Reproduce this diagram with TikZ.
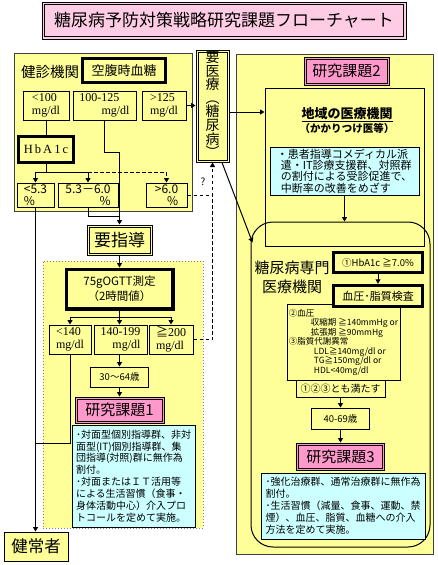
\documentclass[tikz,border=0pt]{standalone}
\usepackage{fontspec}
\setmainfont{Noto Sans CJK JP}
\newfontfamily\jp{Noto Sans CJK JP}
\newfontfamily\lserif{Liberation Serif}
\usetikzlibrary{arrows.meta,calc}
\definecolor{yel}{HTML}{FFFF99}
\definecolor{cya}{HTML}{CCFFFF}
\definecolor{pnk}{HTML}{FF99CC}
\definecolor{lpnk}{HTML}{FFCCE6}
\definecolor{bord}{HTML}{404040}
\newcommand\fsz[2]{\fontsize{#1}{#2}\selectfont}
\newcommand\innerrect[3]{\draw[line width=#3] ([shift={(#2,#2)}]#1.north west) rectangle ([shift={(-#2,-#2)}]#1.south east);}
\begin{document}
\begin{tikzpicture}[x=1pt,y=-1pt,
  box/.style={draw=black,fill=yel,line width=1pt,inner sep=0pt,align=center},
  dbox/.style={box,line width=1pt},
  tbox/.style={box,line width=2.4pt},
  pbox/.style={draw=black,fill=pnk,line width=1pt,inner sep=0pt,font=\fsz{15}{15}},
  cbox/.style={draw=black,fill=cya,line width=1pt,inner sep=0pt,align=left},
  cont/.style={draw=bord,fill=yel,line width=1pt,inner sep=0pt},
  arr/.style={-{Triangle[length=4.5pt,width=5pt]},line width=1pt},
  ln/.style={line width=1pt},
  dsh/.style={line width=1pt,dash pattern=on 3.5pt off 2.5pt},
  sbox/.style={box,font=\lserif\fsz{12}{13}},
]
\useasboundingbox (0,0) rectangle (437,565);

% title
\node[draw=black,fill=lpnk,line width=1pt,minimum width=364pt,minimum height=37pt,inner sep=0pt,font=\fsz{17}{17}] (title) at (224,20.5) {糖尿病予防対策戦略研究課題フローチャート};
\innerrect{title}{3}{1.8pt}

% containers
\node[cont,minimum width=178pt,minimum height=158pt] (kenshin) at (103,132) {};
\node[cont,minimum width=197pt,minimum height=500pt] (rightc) at (334.5,304) {};
\node[draw=gray,dotted,fill=yel,line width=1pt,minimum width=160pt,minimum height=267pt,inner sep=0pt] (ogttarea) at (123,394.5) {};

% left top part
\node[font=\fsz{14.5}{14.5}] (kenshinlbl) at (50,72) {健診機関};
\node[tbox,minimum width=84pt,minimum height=25pt,font=\fsz{13}{13}] (kufuku) at (124,70.5) {空腹時血糖};
\innerrect{kufuku}{2.6}{0.8pt}
\node[sbox,align=left,minimum width=46pt,minimum height=29pt] (m100) at (46,105.5) {<100\\mg/dl};
\node[sbox,align=left,minimum width=63pt,minimum height=29pt] (m100125) at (104.5,105.5) {100-125\\\hspace*{22pt}mg/dl};
\node[sbox,align=left,minimum width=44pt,minimum height=29pt] (m125) at (164,105.5) {>125\\mg/dl};
\node[tbox,minimum width=56pt,minimum height=27pt,font=\lserif\fsz{12.5}{12.5}] (hba) at (46,149.5) {H\,b\,A\,1\,c};
\innerrect{hba}{2.6}{0.8pt}
\node[box,align=left,minimum width=37pt,minimum height=24pt,font=\fsz{12}{12}] (lt53) at (35.5,195) {<5.3\\\%};
\node[box,align=right,minimum width=60pt,minimum height=24pt,font=\fsz{12}{12}] (m5360) at (88,195) {5.3－6.0\\\%};
\node[box,align=right,minimum width=41pt,minimum height=24pt,font=\fsz{12}{12}] (gt60) at (166.5,195) {>6.0\\\%};

% 要医療
\node[dbox,minimum width=33pt,minimum height=112pt] (iryo) at (212.5,106) {};
\innerrect{iryo}{2.4}{0.8pt}
\node[align=center,inner sep=0pt,font=\fsz{14}{13.6}] (iryolbl) at (212.5,110) {\smash{要}\\\smash{医}\\\smash{療}\\\smash{︵}\\\smash{糖}\\\smash{尿}\\\smash{病}\\\smash{︶}};
\node[font=\fsz{10}{10}] (q) at (203,182) {?};

% left lower part
\node[dbox,minimum width=65pt,minimum height=30pt,font=\fsz{17}{17}] (yoshido) at (119.5,240) {要指導};
\innerrect{yoshido}{2.4}{0.8pt}
\node[tbox,line width=3pt,minimum width=107pt,minimum height=40pt,font=\fsz{11.5}{15}] (ogtt) at (119.5,289) {75gOGTT測定\\（2時間値）};
\innerrect{ogtt}{3.2}{0.8pt}
\node[sbox,align=left,minimum width=42pt,minimum height=29pt] (lt140) at (70,339.5) {<140\\mg/dl};
\node[sbox,align=right,minimum width=53pt,minimum height=29pt] (m140199) at (120.5,339.5) {140-199\\mg/dl};
\node[sbox,align=left,minimum width=44pt,minimum height=29pt] (ge200) at (171,339.5) {{\jp ≧}200\\mg/dl};
\node[box,minimum width=58pt,minimum height=20pt,font=\fsz{9.5}{9.5}] (age1) at (119.5,377) {30〜64歳};
\node[pbox,minimum width=89pt,minimum height=26pt] (kadai1) at (119.5,410) {研究課題1};
\innerrect{kadai1}{2.4}{0.8pt}
\node[cbox,minimum width=123pt,minimum height=102pt,font=\fsz{10}{11.9}] (c1) at (133.5,476) {･対面型個別指導群、非対\\面型(IT)個別指導群、集\\団指導(対照)群に無作為\\割付。\\･対面またはＩＴ活用等\\による生活習慣（食事・\\身体活動中心）介入プロ\\トコールを定めて実施。};
\node[box,minimum width=64pt,minimum height=29pt,font=\fsz{16.5}{16.5}] (kenjo) at (36,546.5) {健常者};

% right part
\node[pbox,minimum width=85pt,minimum height=28pt] (kadai2) at (346.5,71) {研究課題2};
\innerrect{kadai2}{2.4}{0.8pt}
\node[box,minimum width=159pt,minimum height=158pt] (chiiki) at (344.5,167) {};
\node[font=\bfseries\fsz{13}{13}] (chiikilbl) at (347,115) {\underline{地域の医療機関}};
\node[font=\bfseries\fsz{10.5}{10.5}] (kakari) at (347,128) {（かかりつけ医等）};
\node[cbox,minimum width=149pt,minimum height=48pt,font=\fsz{11}{10}] (c2) at (344.5,171) {・患者指導コメディカル派\\\hspace*{4pt}遣・IT診療支援群、対照群\\\hspace*{4pt}の割付による受診促進で、\\\hspace*{4pt}中断率の改善をめざす};
\node[draw=black,line width=1pt,rounded corners=22pt,minimum width=179pt,minimum height=325pt,inner sep=0pt] (senmon) at (340.5,384.5) {};
\node[font=\fsz{15}{19},align=center] (senmonlbl) at (292,277.5) {糖尿病専門\\医療機関};
\node[tbox,minimum width=90pt,minimum height=21pt,font=\fsz{9.5}{9.5}] (hba7) at (378,262.5) {①HbA1c ≧7.0\%};
\innerrect{hba7}{2.6}{0.8pt}
\node[box,minimum width=113pt,minimum height=76pt,align=left,font=\fsz{8.5}{9.5}] (crit) at (343.5,342) {②血圧\\\hspace*{22pt}収縮期 ≧140mmHg or\\\hspace*{22pt}拡張期 ≧90mmHg\\③脂質代謝異常\\\hspace*{25pt}LDL≧140mg/dl or\\\hspace*{25pt}TG≧150mg/dl or\\\hspace*{25pt}HDL<40mg/dl};
\node[tbox,minimum width=90pt,minimum height=22pt,font=\fsz{11}{11}] (kensa) at (378,296) {血圧･脂質検査};
\innerrect{kensa}{2.6}{0.8pt}
\node[box,minimum width=89pt,minimum height=17pt,font=\fsz{10}{10}] (mitasu) at (340.5,388.5) {①②③とも満たす};
\node[box,minimum width=58pt,minimum height=21pt,font=\fsz{9.5}{9.5}] (age2) at (340.5,418.5) {40-69歳};
\node[pbox,minimum width=88pt,minimum height=27pt] (kadai3) at (340.5,456.5) {研究課題3};
\innerrect{kadai3}{2.4}{0.8pt}
\node[cbox,minimum width=164pt,minimum height=66pt,font=\fsz{10}{12}] (c3) at (343,506) {･強化治療群、通常治療群に無作為\\割付。\\･生活習慣（減量、食事、運動、禁\\煙）、血圧、脂質、血糖への介入\\方法を定めて実施。};

% connectors
\draw[arr] (m125.east) -- (m125.east -| iryo.west);
\draw[ln] (m100.south) -- (hba.north);
\draw[ln] (hba.south) -- (hba.south |- 0,172);
\draw[ln] (lt53.north |- 0,172) -- (m5360.north |- 0,172);
\draw[arr] (lt53.north |- 0,172) -- (lt53.north);
\draw[arr] (m5360.north |- 0,172) -- (m5360.north);
\draw[dsh] (m5360.north |- 0,172) -- (gt60.north |- 0,172);
\draw[dsh,-{Triangle[length=4.5pt,width=5pt]}] (gt60.north |- 0,172) -- (gt60.north);
\draw[arr] (m100125.south) -- (m100125.south |- 0,152) -- (yoshido.north |- 0,152) -- (yoshido.north);
\draw[ln] (m5360.south) -- (m5360.south |- 0,216) -- (yoshido.north |- 0,216);
\draw[arr] (lt53.south) -- (lt53.south |- kenjo.north);
\draw[dsh,-{Triangle[length=4.5pt,width=5pt]}] (gt60.east) -- (iryo.south |- gt60.east) -- (iryo.south);
\draw[dsh] (ge200.east) -- (iryo.south |- ge200.east) -- (iryo.south |- gt60.east);
\draw[arr] (yoshido.south) -- (ogtt.north);
\draw[ln] (ogtt.south) -- (ogtt.south |- 0,317);
\draw[ln] (lt140.north |- 0,317) -- (ge200.north |- 0,317);
\draw[arr] (lt140.north |- 0,317) -- (lt140.north);
\draw[arr] (ogtt.south |- 0,317) -- (ogtt.south |- m140199.north);
\draw[arr] (ge200.north |- 0,317) -- (ge200.north);
\draw[arr] (age1.north |- m140199.south) -- (age1.north);
\draw[arr] (age1.south) -- (kadai1.north);
\draw[ln] (lt140.south) -- (lt140.south |- 0,443) -- (lt53.south |- 0,443);
\draw[arr] (iryo.east |- 0,112) -- (chiiki.west |- 0,112);
\draw[arr] (c2.south) -- (c2.south |- senmon.north);
\draw[arr] ($(iryo.south)+(9.5,0)$) -- ($(senmon.north west)+(2,21)$);
\draw[arr] (hba7.south) -- (kensa.north);
\draw[arr] (mitasu.south) -- (age2.north);
\draw[arr] (age2.south) -- (kadai3.north);
\end{tikzpicture}
\end{document}
